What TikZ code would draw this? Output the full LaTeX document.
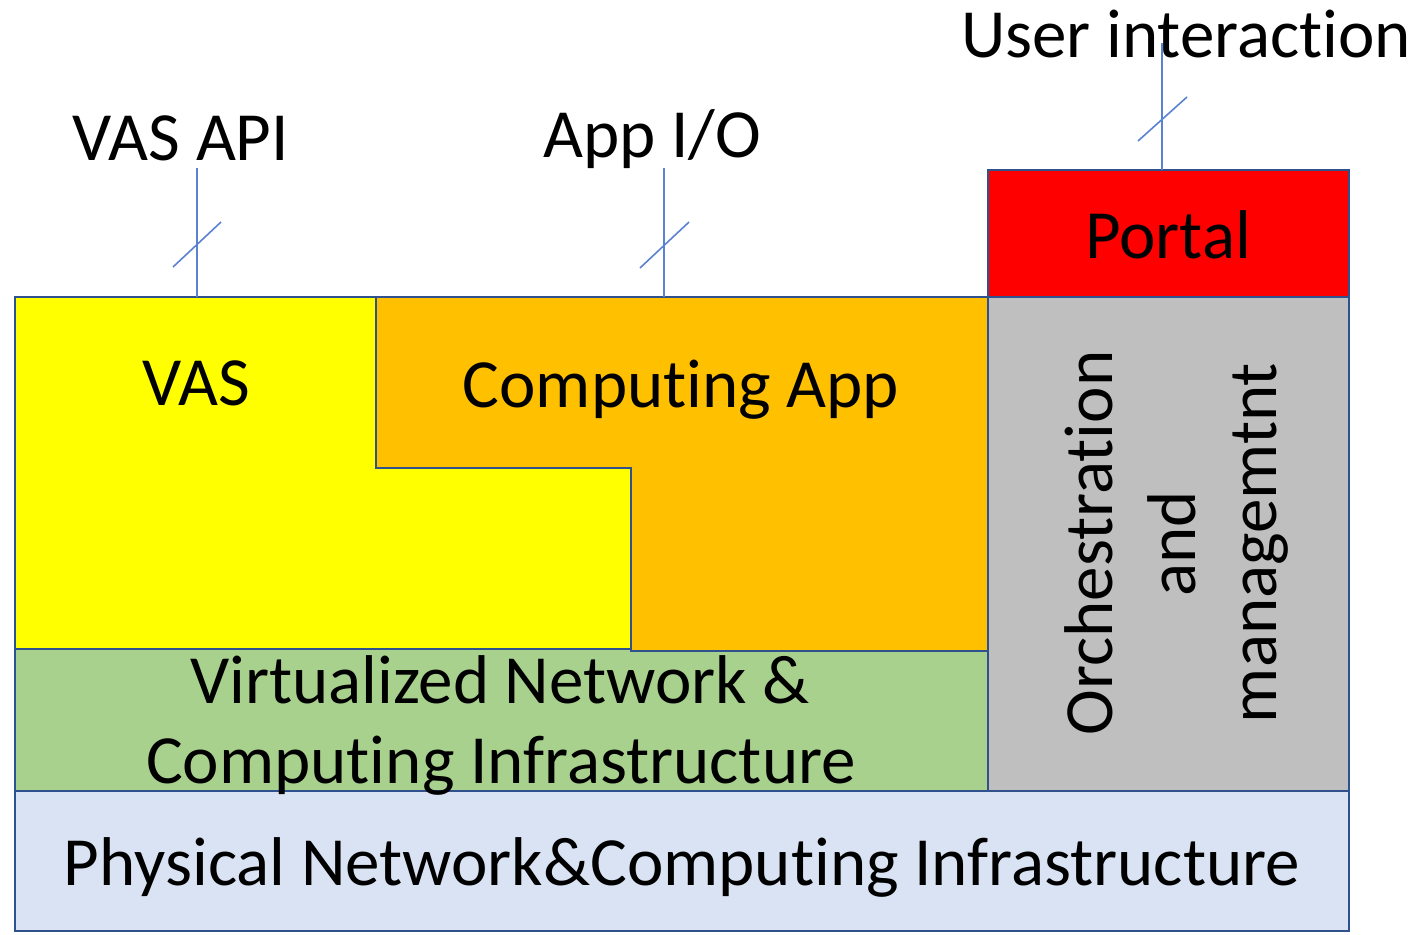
\documentclass[tikz,border=0pt]{standalone}
\usepackage{fontspec}
\setmainfont[Ligatures={NoCommon,NoContextual,NoRare},RawFeature={-liga;-clig;-dlig}]{Carlito}
\definecolor{frame}{HTML}{2F528F}
\definecolor{tickblue}{HTML}{5B82D0}
\definecolor{physc}{HTML}{DAE3F3}
\definecolor{virtc}{HTML}{A9D18E}
\definecolor{vasc}{HTML}{FFFF00}
\definecolor{appc}{HTML}{FFC000}
\definecolor{orchc}{HTML}{BFBFBF}
\definecolor{portalc}{HTML}{FF0000}
\begin{document}
\begin{tikzpicture}[x=1pt,y=-1pt,
  layer/.style={draw=frame, line width=2.9pt, line join=miter},
  lbl/.style={font=\fontsize{69}{80}\selectfont, inner sep=0pt, anchor=base},
  tickline/.style={draw=tickblue, line width=1.6pt}]
\useasboundingbox (0,0) rectangle (1418,934);

% stacked layers
\draw[layer, fill=physc] (15,791) rectangle (1349,931);
\draw[layer, fill=virtc] (15,649) rectangle (988,791);
\draw[layer, fill=vasc] (15,297) -- (376,297) -- (376,468) -- (631,468)
  -- (631,649) -- (15,649) -- cycle;
\draw[layer, fill=appc] (376,297) -- (988,297) -- (988,651) -- (631,651)
  -- (631,468) -- (376,468) -- cycle;
\draw[layer, fill=orchc] (988,297) rectangle (1349,791);
\draw[layer, fill=portalc] (988,170) rectangle (1349,297);

% layer labels
\node[lbl] (vas) at (196,405) {VAS};
\node[lbl] (app) at (681,407) {Computing App};
\node[lbl] (portal) at (1168,258) {Portal};
\node[lbl] (virt1) at (500,703) {Virtualized Network \&};
\node[lbl] (virt2) at (501,783) {Computing Infrastructure};
\node[lbl] (phys) at (682,885) {Physical Network\&Computing Infrastructure};
\node[lbl, rotate=90] (orch1) at (1112,543) {Orchestration};
\node[lbl, rotate=90] (orch2) at (1195,544) {and};
\node[lbl, rotate=90] (orch3) at (1276,543) {managemtnt};

% interface labels
\node[lbl] (api) at (181,160) {VAS API};
\node[lbl] (io) at (652,157) {App I/O};
\node[lbl] (user) at (1186,57) {User interaction};

% interface lines with bus slashes
\coordinate (apiTop) at (197,168);
\coordinate (apiEnd) at (197,297);
\coordinate (ioTop) at (664,168);
\coordinate (ioEnd) at (664,297);
\coordinate (userTop) at (1162,43);
\coordinate (userEnd) at (1162,170);
\draw[tickline] (apiTop) -- (apiEnd);
\draw[tickline] (ioTop) -- (ioEnd);
\draw[tickline] (userTop) -- (userEnd);
\draw[tickline] (173,267) -- (221,222);
\draw[tickline] (640,268) -- (689,222);
\draw[tickline] (1138,141) -- (1187,97);
\end{tikzpicture}
\end{document}
